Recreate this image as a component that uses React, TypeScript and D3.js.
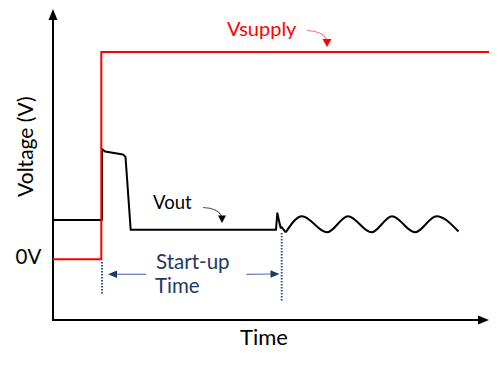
import React from "react";
import * as d3 from "d3";

// Time axis in arbitrary units, voltage in arbitrary units (0V baseline, Vsupply = 5)
const supplyT = [0, 48.3, 48.3, 436];
const supplyV = [0, 0, 5, 5];

const voutStepT = [0, 49, 49, 52, 70, 72.5, 77.7, 223, 224.3, 227.6, 228.4, 232.7];
const voutStepV = [0.95, 0.95, 2.66, 2.6, 2.53, 2.47, 0.71, 0.71, 1.11, 0.76, 0.78, 0.65];

const voutWaveT = [232.7, 249, 274, 295, 318.5, 339, 362, 383.5, 405.5];
const voutWaveV = [0.65, 1.04, 0.65, 1.04, 0.65, 1.04, 0.65, 1.04, 0.67];

const startupMarks = [48.5, 228.7];
const axisLabelX = "Time";
const axisLabelY = "Voltage (V)";
const zeroLabel = "0V";

const W = 498;
const H = 367;

export default function App() {
  const x = d3.scaleLinear().domain([0, 436]).range([53, 489]);
  const y = d3.scaleLinear().domain([0, 5]).range([259.3, 52]);
  const vBottom = -1.465;
  const vTop = 6.04;

  const lineLin = d3
    .line<[number, number]>()
    .x((d) => x(d[0]))
    .y((d) => y(d[1]));
  const lineWave = d3
    .line<[number, number]>()
    .x((d) => x(d[0]))
    .y((d) => y(d[1]))
    .curve(d3.curveMonotoneX);

  const supply = supplyT.map((t, i) => [t, supplyV[i]] as [number, number]);
  const step = voutStepT.map((t, i) => [t, voutStepV[i]] as [number, number]);
  const wave = voutWaveT.map((t, i) => [t, voutWaveV[i]] as [number, number]);

  const x0 = x(0);
  const yAxis = y(vBottom);
  const yTip = y(vTop);
  const xTip = x(436);

  const font = "Lato, 'Open Sans', sans-serif";
  const navy = "#1f3864";

  const dotTop = [262, 233];
  const dotBot = [295, 302];

  return (
    <svg width={W} height={H} style={{ display: "block", position: "absolute", left: 0, top: 0 }}>
      <rect width={W} height={H} fill="#fff" />
      {/* axes */}
      <line x1={x0} y1={yAxis} x2={x0} y2={yTip + 8} stroke="#000" strokeWidth={2} />
      <polygon points={`${x0},${yTip} ${x0 - 4.5},${yTip + 11} ${x0 + 4.5},${yTip + 11}`} fill="#000" />
      <line x1={x0 - 1} y1={yAxis} x2={xTip - 8} y2={yAxis} stroke="#000" strokeWidth={2} />
      <polygon points={`${xTip},${yAxis} ${xTip - 11},${yAxis - 4.5} ${xTip - 11},${yAxis + 4.5}`} fill="#000" />

      {/* Vout */}
      <path d={lineLin(step) || ""} fill="none" stroke="#000" strokeWidth={2} strokeLinejoin="round" />
      <path d={lineWave(wave) || ""} fill="none" stroke="#000" strokeWidth={2} />

      {/* Vsupply */}
      <path d={lineLin(supply) || ""} fill="none" stroke="#ff0000" strokeWidth={2} />

      {/* start-up markers */}
      {startupMarks.map((t, i) => (
        <line
          key={i}
          x1={x(t) + (i === 0 ? 0.5 : 0)}
          x2={x(t) + (i === 0 ? 0.5 : 0)}
          y1={dotTop[i]}
          y2={dotBot[i]}
          stroke="#2f5597"
          strokeWidth={2}
          strokeDasharray="1.5 1.5"
        />
      ))}
      <line x1={146} y1={274.3} x2={114} y2={274.3} stroke="#5a78b4" strokeWidth={1.2} />
      <polygon points="108,274.3 117,270.5 117,278.1" fill={navy} />
      <line x1={246.5} y1={274.3} x2={272} y2={274} stroke="#5a78b4" strokeWidth={1.2} />
      <polygon points="279.5,274 270.5,270.2 270.5,277.8" fill={navy} />

      {/* annotation arrows */}
      <path d="M203,207.5 Q218,208 221.5,216" fill="none" stroke="#555" strokeWidth={1.2} />
      <polygon points="222,223 218,215.5 226,215.5" fill="#000" />
      <path d="M307,30.5 Q322,31 326.5,39" fill="none" stroke="#ff7070" strokeWidth={1.2} />
      <polygon points="327,47 322.5,39 331.5,39" fill="#ff0000" />

      {/* texts */}
      <text x={227} y={35.5} fontFamily={font} fontSize={20} fill="#ff0000">Vsupply</text>
      <text x={153} y={209} fontFamily={font} fontSize={18.5} fill="#000">Vout</text>
      <text x={15.5} y={264} fontFamily={font} fontSize={20.5} fill="#000">{zeroLabel}</text>
      <text x={156} y={269.3} fontFamily={font} fontSize={20.5} fill={navy}>Start-up</text>
      <text x={155} y={293.3} fontFamily={font} fontSize={20.5} fill={navy}>Time</text>
      <text x={240} y={345} fontFamily={font} fontSize={22} fill="#000">{axisLabelX}</text>
      <text
        transform="translate(32.7,146.7) rotate(-90)"
        textAnchor="middle"
        fontFamily={font}
        fontSize={21}
        fill="#000"
      >
        {axisLabelY}
      </text>
    </svg>
  );
}
